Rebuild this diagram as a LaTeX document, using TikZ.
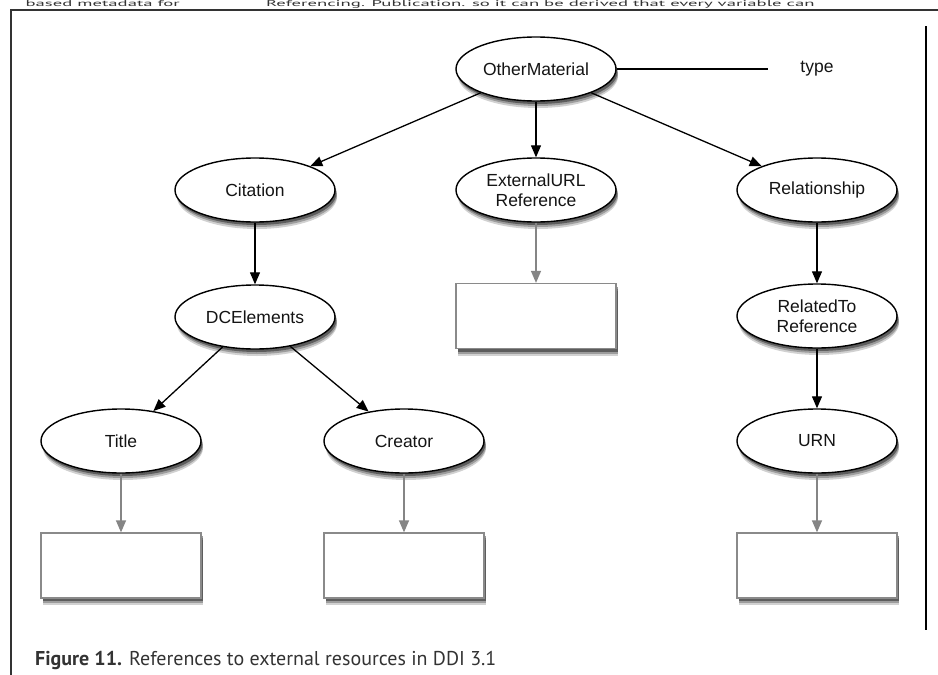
\documentclass[tikz,border=0pt]{standalone}
\usepackage{fontspec}
\setmainfont{Liberation Sans}
\newfontfamily\capfont{PT Sans}
\newfontfamily\topfont[FakeStretch=2.2]{PT Sans}
\usetikzlibrary{shapes.geometric,arrows.meta,shadows}
\definecolor{ink}{HTML}{141414}
\definecolor{framec}{HTML}{333333}
\definecolor{greyarrow}{HTML}{858585}
\definecolor{boxline}{HTML}{8A8A8A}
\begin{document}
\begin{tikzpicture}[x=1pt,y=-1pt,
  shad/.style={
    drop shadow={shadow xshift=2pt, shadow yshift=-7pt, opacity=0.18, fill=black},
    drop shadow={shadow xshift=2pt, shadow yshift=-5pt, opacity=0.25, fill=black},
    drop shadow={shadow xshift=1.5pt, shadow yshift=-3pt, opacity=0.4, fill=black}},
  ell/.style={ellipse, draw=black, line width=1.4pt, fill=white, shad,
    minimum width=160pt, minimum height=64pt, inner sep=0pt, align=center,
    text=ink, font=\fontsize{17.5}{19.5}\selectfont},
  valbox/.style={rectangle, draw=boxline, line width=1.3pt, fill=white, shad,
    minimum width=160pt, minimum height=65pt, inner sep=0pt},
  blk/.style={-{Triangle[length=12pt,width=10pt]}, line width=1.3pt, draw=black},
  gry/.style={-{Triangle[length=12pt,width=10pt]}, line width=1.3pt, draw=greyarrow, color=greyarrow},
  lbl/.style={text=ink, font=\fontsize{17.5}{19.5}\selectfont, inner sep=0pt},
  toptext/.style={inner sep=0pt, text=framec, font=\topfont\fontsize{8.5}{9}\selectfont}
]
\useasboundingbox (0,0) rectangle (938,675);
\fill[white] (0,0) rectangle (938,675);
% page text at the top
\node[toptext, anchor=base east] (topa) at (180,6.8) {based metadata for};
\node[toptext, anchor=base west] (topb) at (266,6.8) {Referencing. Publication. so it can be derived that every variable can};
% frame
\draw[framec, line width=1.3pt] (11,675) -- (11,10) -- (940,10);
\draw[black, line width=2pt] (926,26) -- (926,630);
% nodes
\node[ell] (om) at (536,69) {OtherMaterial};
\node[lbl] (type) at (817,69) {type};
\coordinate (typeend) at (768,69);
\node[ell] (cit) at (255,190) {Citation};
\node[ell] (ext) at (536,190) {ExternalURL\\Reference};
\node[ell] (rel) at (817,190) {Relationship};
\node[ell] (dce) at (255,317) {DCElements};
\node[ell] (relto) at (817,316) {RelatedTo\\Reference};
\node[ell] (title) at (121,441) {Title};
\node[ell] (creator) at (404,441) {Creator};
\node[ell] (urn) at (817,441) {URN};
\node[valbox] (extbox) at (536,316) {};
\node[valbox] (titlebox) at (121,565.5) {};
\node[valbox] (creatorbox) at (404,565.5) {};
\node[valbox] (urnbox) at (817,565.5) {};
% connectors
\draw[line width=1.3pt] (om.east) -- (typeend);
\draw[blk] (om) -- (cit);
\draw[blk] (om) -- (ext);
\draw[blk] (om) -- (rel);
\draw[blk] (cit) -- (dce);
\draw[blk] (rel) -- (relto);
\draw[blk] (relto) -- (urn);
\draw[blk] (dce) -- (title);
\draw[blk] (dce) -- (creator);
\draw[gry] (ext) -- (extbox);
\draw[gry] (title) -- (titlebox);
\draw[gry] (creator) -- (creatorbox);
\draw[gry] (urn) -- (urnbox);
% caption
\node[anchor=base west, inner sep=0pt, text=framec, font=\capfont\fontsize{20}{24}\selectfont] (cap) at (35,665) {\textbf{Figure 11.} References to external resources in DDI 3.1};
\end{tikzpicture}
\end{document}
